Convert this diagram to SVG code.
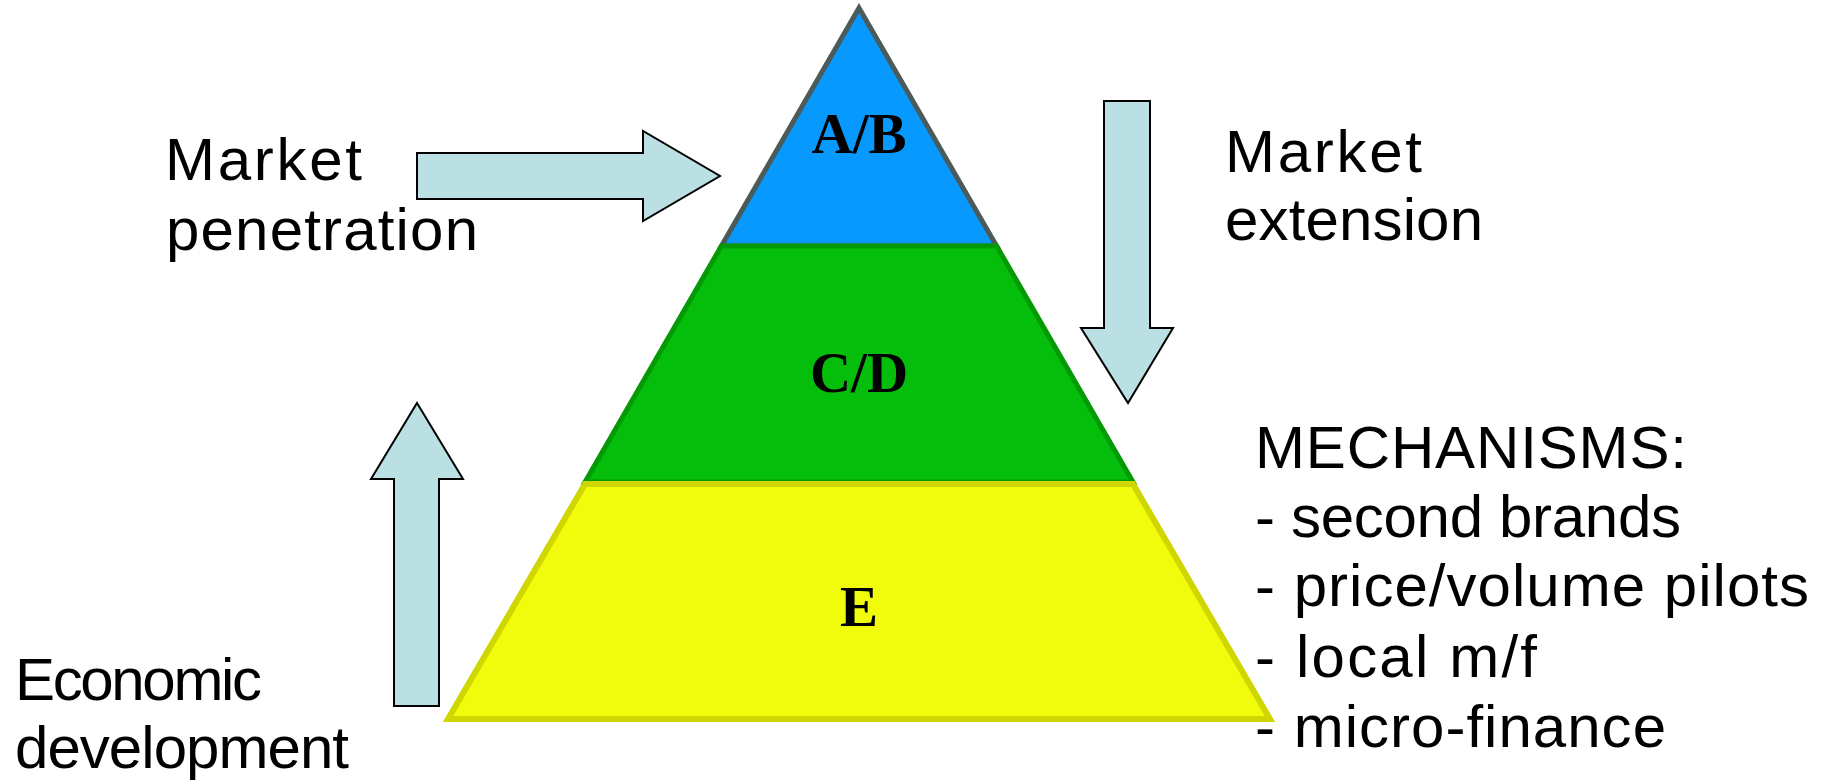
<svg xmlns="http://www.w3.org/2000/svg" width="1834" height="784" viewBox="0 0 1834 784">
<style>
.lbl{font-family:"Liberation Sans",Arial,sans-serif;font-size:60px;fill:#000}
.tier{font-family:"Liberation Serif","Times New Roman",serif;font-weight:bold;font-size:57px;fill:#000;text-anchor:middle}
.arr{fill:#BAE0E3;stroke:#000;stroke-width:2;stroke-linejoin:miter}
</style>
<rect width="1834" height="784" fill="#fff"/>
<g id="tier-ab">
<polygon points="859,8 721.4,246 996.6,246" fill="#0899FF" stroke="#4B5A5A" stroke-width="5" stroke-linejoin="miter"/>
<text class="tier" x="859" y="153">A/B</text>
</g>
<g id="tier-cd">
<polygon points="721.4,246 996.6,246 1133,482 585,482" fill="#05BE0B" stroke="#049A06" stroke-width="5"/>
<text class="tier" x="859" y="392">C/D</text>
</g>
<g id="tier-e">
<polygon points="585,484 1133,484 1270,719 448,719" fill="#F0FC0C" stroke="#CFD600" stroke-width="6"/>
<text class="tier" x="859" y="626">E</text>
</g>
<g id="connectors">
<polygon class="arr" points="417,153 643,153 643,131 720,176 643,221 643,199 417,199"/>
<polygon class="arr" points="1104,101 1150,101 1150,328 1173,328 1128,403 1081,328 1104,328"/>
<polygon class="arr" points="417,403 463,479 439,479 439,706 394,706 394,479 371,479"/>
</g>
<g id="label-penetration">
<text class="lbl" x="165" y="180" textLength="197">Market</text>
<text class="lbl" x="166" y="250" textLength="312">penetration</text>
</g>
<g id="label-extension">
<text class="lbl" x="1225" y="172" textLength="197">Market</text>
<text class="lbl" x="1225" y="240" textLength="258">extension</text>
</g>
<g id="label-development">
<text class="lbl" x="15" y="700" textLength="247">Economic</text>
<text class="lbl" x="15" y="768" textLength="334">development</text>
</g>
<g id="label-mechanisms">
<text class="lbl" x="1255" y="468" textLength="432">MECHANISMS:</text>
<text class="lbl" x="1255" y="537" textLength="426">- second brands</text>
<text class="lbl" x="1255" y="606" textLength="554">- price/volume pilots</text>
<text class="lbl" x="1255" y="677" textLength="282">- local m/f</text>
<text class="lbl" x="1255" y="747" textLength="411">- micro-finance</text>
</g>
</svg>
